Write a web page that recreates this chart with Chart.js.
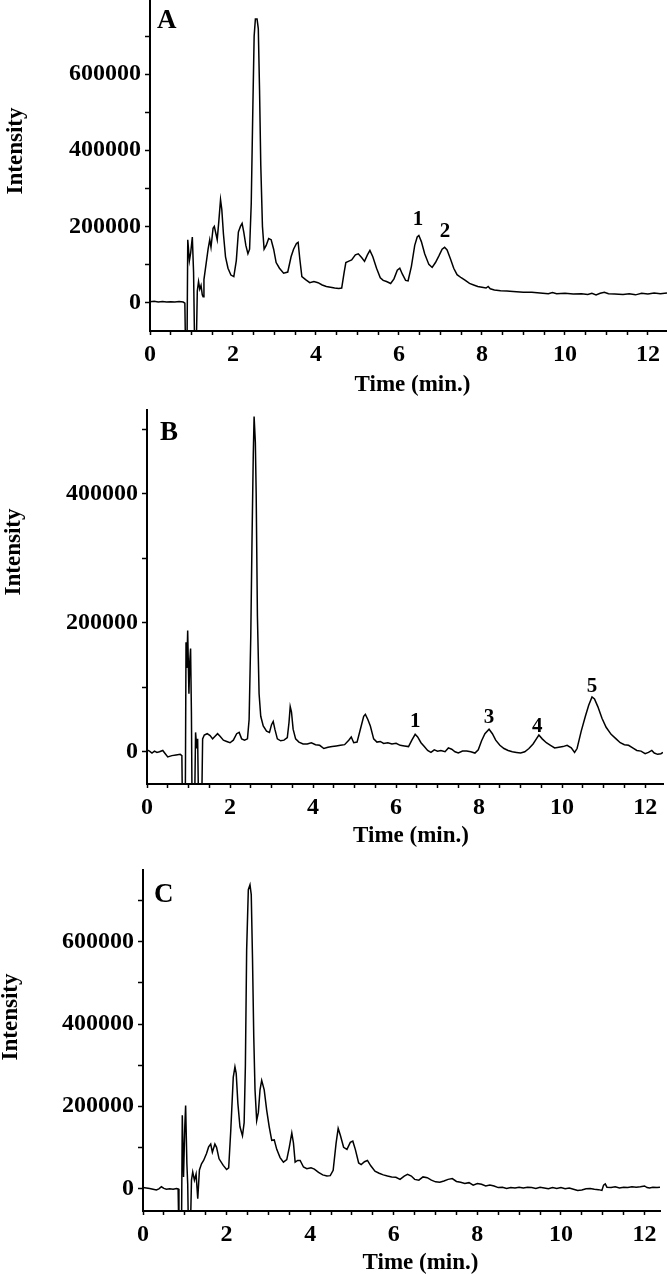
<!DOCTYPE html>
<html><head><meta charset="utf-8">
<script src="https://cdn.jsdelivr.net/npm/chart.js@4.4.0/dist/chart.umd.min.js"></script>
<style>
html,body{margin:0;padding:0;background:#fff;}
#wrap{position:relative;width:667px;height:1274px;overflow:hidden;background:#fff;}
canvas{position:absolute;left:0;}
</style></head><body>
<div id="wrap">
<canvas id="cA" width="667" height="402" style="top:0px"></canvas>
<canvas id="cB" width="667" height="446" style="top:404px"></canvas>
<canvas id="cC" width="667" height="422" style="top:852px"></canvas>
</div>
<script>
// ---------- DATA ----------
const xTickValues = [0,0.5,1,1.5,2,2.5,3,3.5,4,4.5,5,5.5,6,6.5,7,7.5,8,8.5,9,9.5,10,10.5,11,11.5,12];
const xLabelValues = [0,2,4,6,8,10,12];

const yTicksA = [0,100000,200000,300000,400000,500000,600000,700000];
const yLabelsA = [0,200000,400000,600000];
const yTicksB = [0,100000,200000,300000,400000,500000];
const yLabelsB = [0,200000,400000];
const yTicksC = [0,100000,200000,300000,400000,500000,600000,700000];
const yLabelsC = [0,200000,400000,600000];

const timeA = [0.00,0.10,0.20,0.30,0.40,0.50,0.60,0.70,0.80,0.84,0.86,0.89,0.91,0.95,0.98,1.02,1.05,1.08,1.11,1.14,1.17,1.20,1.23,1.26,1.28,1.30,1.35,1.40,1.44,1.47,1.52,1.55,1.59,1.62,1.66,1.70,1.73,1.77,1.82,1.88,1.95,2.02,2.08,2.13,2.18,2.22,2.26,2.31,2.36,2.40,2.44,2.48,2.51,2.54,2.58,2.61,2.64,2.67,2.71,2.75,2.80,2.86,2.92,2.98,3.04,3.12,3.22,3.32,3.40,3.46,3.53,3.57,3.61,3.66,3.75,3.85,3.95,4.05,4.15,4.25,4.35,4.45,4.55,4.62,4.68,4.72,4.78,4.86,4.95,5.02,5.10,5.17,5.24,5.30,5.37,5.46,5.55,5.62,5.70,5.80,5.88,5.96,6.02,6.08,6.16,6.22,6.30,6.38,6.44,6.48,6.54,6.62,6.72,6.80,6.88,6.96,7.04,7.10,7.16,7.24,7.32,7.40,7.50,7.60,7.70,7.80,7.90,8.00,8.10,8.15,8.20,8.30,8.45,8.60,8.75,9.00,9.20,9.40,9.60,9.70,9.80,10.00,10.20,10.40,10.55,10.65,10.75,10.85,10.95,11.05,11.20,11.40,11.55,11.70,11.85,12.00,12.15,12.30,12.46];
const intensityA = [2000,3000,1500,2500,1000,2000,1500,2500,1000,-2000,-150000,-150000,165000,110000,130000,172000,80000,-150000,-150000,30000,55000,35000,45000,20000,15000,60000,100000,140000,165000,145000,195000,200000,180000,165000,215000,270000,245000,180000,120000,90000,72000,68000,110000,185000,200000,208000,185000,150000,128000,140000,260000,520000,700000,745000,745000,720000,560000,360000,200000,140000,150000,168000,165000,140000,105000,90000,77000,80000,120000,140000,155000,158000,115000,68000,60000,52000,55000,52000,46000,42000,40000,38000,37000,38000,80000,105000,108000,112000,125000,128000,118000,108000,125000,137000,120000,90000,65000,58000,55000,50000,62000,85000,90000,75000,58000,57000,95000,150000,172000,176000,160000,128000,100000,92000,105000,122000,140000,145000,138000,115000,90000,73000,65000,58000,50000,46000,42000,40000,38000,42000,36000,33000,31000,30000,29000,27000,27000,25000,23000,26000,23000,24000,22000,23000,21000,24000,20000,24000,27000,23000,22000,21000,23000,20000,24000,22000,25000,23000,25000];

const timeB = [0.00,0.06,0.12,0.18,0.24,0.30,0.38,0.44,0.50,0.60,0.70,0.80,0.84,0.86,0.92,0.94,0.96,0.98,1.01,1.03,1.05,1.07,1.09,1.14,1.17,1.20,1.22,1.25,1.28,1.31,1.34,1.38,1.45,1.52,1.58,1.64,1.70,1.76,1.84,1.92,2.00,2.08,2.16,2.22,2.28,2.35,2.42,2.46,2.50,2.53,2.56,2.58,2.61,2.63,2.66,2.70,2.74,2.80,2.88,2.95,3.00,3.04,3.08,3.14,3.22,3.30,3.38,3.42,3.45,3.48,3.52,3.58,3.66,3.76,3.86,3.96,4.06,4.16,4.26,4.36,4.46,4.56,4.66,4.76,4.86,4.92,4.98,5.06,5.14,5.22,5.26,5.32,5.38,5.46,5.54,5.62,5.70,5.80,5.90,6.00,6.10,6.20,6.30,6.38,6.46,6.52,6.60,6.68,6.76,6.84,6.92,7.00,7.08,7.18,7.26,7.34,7.42,7.50,7.60,7.70,7.80,7.90,7.98,8.06,8.14,8.24,8.32,8.40,8.50,8.60,8.70,8.80,8.90,9.00,9.10,9.20,9.30,9.38,9.44,9.52,9.62,9.72,9.82,9.92,10.02,10.12,10.22,10.30,10.36,10.46,10.56,10.64,10.72,10.78,10.86,10.96,11.06,11.18,11.30,11.40,11.50,11.60,11.70,11.80,11.90,12.00,12.08,12.16,12.22,12.30,12.38,12.43];
const intensityB = [3000,1000,-2000,1000,-1000,0,2000,-3000,-8000,-6000,-5000,-4000,-6000,-120000,-120000,170000,130000,188000,90000,140000,160000,60000,-120000,-120000,30000,5000,20000,-120000,-120000,-120000,20000,26000,28000,25000,20000,24000,28000,24000,18000,16000,14000,18000,28000,30000,20000,18000,20000,50000,180000,330000,460000,520000,480000,400000,210000,90000,55000,40000,32000,30000,42000,47000,35000,20000,17000,18000,22000,45000,70000,62000,35000,20000,15000,12000,12000,14000,11000,10000,5000,7000,8000,9000,10000,11000,18000,23000,14000,15000,35000,55000,58000,50000,40000,20000,15000,16000,13000,14000,12000,13000,10000,9000,8000,18000,27000,23000,14000,8000,2000,-1000,3000,1000,2000,0,6000,4000,0,-2000,1000,1000,0,-2000,3000,17000,28000,35000,28000,18000,10000,5000,2000,0,-1000,-2000,0,5000,12000,20000,26000,20000,14000,10000,6000,7000,8000,10000,6000,-1000,5000,32000,55000,72000,85000,82000,70000,52000,38000,27000,20000,14000,11000,10000,6000,2000,1000,-3000,-1000,2000,-2000,-4000,-3000,-1000];

const timeC = [0.00,0.08,0.16,0.24,0.32,0.38,0.44,0.50,0.56,0.64,0.72,0.80,0.84,0.86,0.92,0.94,0.97,1.00,1.02,1.05,1.07,1.09,1.13,1.16,1.19,1.23,1.27,1.31,1.35,1.40,1.45,1.52,1.57,1.62,1.66,1.72,1.76,1.82,1.92,2.00,2.05,2.10,2.16,2.20,2.23,2.27,2.32,2.38,2.42,2.45,2.48,2.52,2.56,2.59,2.62,2.65,2.68,2.72,2.76,2.80,2.84,2.90,2.96,3.02,3.08,3.14,3.20,3.28,3.36,3.44,3.50,3.56,3.60,3.64,3.70,3.76,3.84,3.92,4.02,4.10,4.20,4.30,4.40,4.48,4.55,4.62,4.67,4.72,4.80,4.88,4.96,5.02,5.08,5.16,5.22,5.30,5.37,5.45,5.55,5.65,5.75,5.85,5.95,6.05,6.15,6.25,6.33,6.42,6.50,6.60,6.70,6.80,6.90,7.00,7.10,7.20,7.30,7.40,7.50,7.60,7.70,7.80,7.90,8.00,8.10,8.20,8.30,8.40,8.50,8.60,8.70,8.80,8.90,9.00,9.10,9.20,9.30,9.40,9.50,9.60,9.70,9.80,9.90,10.00,10.10,10.20,10.30,10.40,10.50,10.60,10.70,10.80,10.90,10.98,11.02,11.06,11.10,11.20,11.30,11.40,11.50,11.60,11.70,11.80,11.90,12.00,12.06,12.12,12.20,12.30,12.37];
const intensityC = [2000,1000,0,-2000,-4000,-1000,4000,0,-2000,-1000,-2000,0,-1000,-120000,-120000,178000,28000,150000,202000,60000,10000,-120000,-120000,20000,40000,20000,35000,-25000,45000,60000,68000,85000,101000,108000,88000,108000,100000,72000,56000,46000,50000,141000,271000,296000,280000,207000,150000,128000,160000,300000,580000,727000,739000,715000,560000,370000,240000,165000,185000,240000,263000,240000,190000,150000,117000,118000,95000,75000,64000,70000,100000,135000,110000,64000,68000,68000,52000,48000,50000,47000,39000,33000,30000,31000,44000,110000,146000,130000,100000,95000,112000,115000,95000,62000,58000,65000,68000,55000,42000,37000,33000,30000,28000,27000,22000,30000,34000,30000,22000,20000,28000,26000,20000,16000,15000,18000,22000,24000,17000,15000,12000,14000,8000,12000,10000,6000,8000,6000,2000,3000,0,2000,1000,3000,1000,3000,2000,0,3000,1000,-1000,2000,0,2000,-1000,1000,-2000,-5000,-4000,-1000,0,-2000,-3000,-5000,8000,11000,3000,2000,4000,1000,3000,2000,4000,3000,4000,6000,2000,1000,3000,2000,3000];

const peakNamesA = ['1','2'];
const peakTimesA = [6.46,7.11];
const peakLevelsA = [203000,171000];
const peakNamesB = ['1','3','4','5'];
const peakTimesB = [6.46,8.24,9.40,10.72];
const peakLevelsB = [39000,45000,30000,93000];
const peakNamesC = [];
const peakTimesC = [];
const peakLevelsC = [];

const xTitle = 'Time (min.)';
const yTitle = 'Intensity';

// ---------- RENDER ----------
const FONT = "'Liberation Serif','Times New Roman',serif";

const textPlugin = {
  id: 'panelText',
  afterDraw(chart, args, o) {
    const ctx = chart.ctx, ca = chart.chartArea, sx = chart.scales.x, sy = chart.scales.y;
    ctx.save();
    ctx.fillStyle = '#000';
    ctx.textBaseline = 'alphabetic';
    ctx.font = 'bold 27px ' + FONT;
    ctx.textAlign = 'left';
    ctx.fillText(o.letter, ca.left + o.letterDx, ca.top + o.letterDy);
    ctx.font = 'bold 21px ' + FONT;
    ctx.textAlign = 'center';
    o.names.forEach((n, i) => {
      ctx.fillText(n, sx.getPixelForValue(o.times[i]), sy.getPixelForValue(o.levels[i]));
    });
    ctx.font = 'bold 23px ' + FONT;
    ctx.fillText(xTitle, (ca.left + ca.right) / 2 + o.xTitleDx, ca.bottom + o.xTitleDy);
    ctx.translate(o.yTitleX, o.yTitleY);
    ctx.rotate(-Math.PI / 2);
    ctx.fillText(yTitle, 0, 0);
    ctx.restore();
  }
};

function makeChart(id, times, values, yTicks, yLabels, opt) {
  const pts = times.map((t, i) => ({x: t, y: values[i]}));
  return new Chart(document.getElementById(id), {
    type: 'line',
    data: { datasets: [{ data: pts, borderColor: '#000', borderWidth: 1.5, pointRadius: 0, tension: 0, fill: false }] },
    options: {
      responsive: false, animation: false, events: [],
      layout: { padding: { top: opt.padTop, right: opt.padRight, left: 0, bottom: 0 } },
      plugins: { legend: { display: false }, tooltip: { enabled: false }, panelText: opt.text },
      scales: {
        x: {
          type: 'linear', min: 0, max: opt.xMax,
          afterBuildTicks: s => { s.ticks = xTickValues.map(v => ({value: v})); },
          afterFit: s => { s.height = opt.xH; s.paddingLeft = 0; s.paddingRight = 0; },
          ticks: { autoSkip: false, maxRotation: 0, minRotation: 0, color: '#000', padding: 5,
                   font: { family: FONT, size: 24, weight: 'bold' },
                   callback: v => xLabelValues.includes(v) ? String(v) : '' },
          grid: { drawOnChartArea: false, drawTicks: true, tickLength: 4, tickColor: '#000', tickWidth: 1.5 },
          border: { display: true, color: '#000', width: 2 }
        },
        y: {
          type: 'linear', min: opt.yMin, max: opt.yMax,
          afterBuildTicks: s => { s.ticks = yTicks.map(v => ({value: v})); },
          afterFit: s => { s.width = opt.yW; s.paddingTop = 0; s.paddingBottom = 0; },
          ticks: { autoSkip: false, color: '#000', padding: 4,
                   font: { family: FONT, size: 24, weight: 'bold' },
                   callback: v => yLabels.includes(v) ? String(v) : '' },
          grid: { drawOnChartArea: false, drawTicks: true, tickLength: 5, tickColor: '#000', tickWidth: 1.5 },
          border: { display: true, color: '#000', width: 2 }
        }
      }
    },
    plugins: [textPlugin]
  });
}

makeChart('cA', timeA, intensityA, yTicksA, yLabelsA, {
  padTop: 0, padRight: 0, xH: 71, yW: 150, xMax: 12.46, yMin: -75000, yMax: 795000,
  text: { letter: 'A', letterDx: 7, letterDy: 28, names: peakNamesA, times: peakTimesA, levels: peakLevelsA,
          xTitleDx: 4, xTitleDy: 60, yTitleX: 22, yTitleY: 151 }
});
makeChart('cB', timeB, intensityB, yTicksB, yLabelsB, {
  padTop: 6, padRight: 4, xH: 66, yW: 147, xMax: 12.43, yMin: -50000, yMax: 530000,
  text: { letter: 'B', letterDx: 13, letterDy: 30, names: peakNamesB, times: peakTimesB, levels: peakLevelsB,
          xTitleDx: 6, xTitleDy: 58, yTitleX: 20, yTitleY: 148 }
});
makeChart('cC', timeC, intensityC, yTicksC, yLabelsC, {
  padTop: 18, padRight: 7, xH: 63, yW: 143, xMax: 12.37, yMin: -55000, yMax: 775000,
  text: { letter: 'C', letterDx: 11, letterDy: 32, names: peakNamesC, times: peakTimesC, levels: peakLevelsC,
          xTitleDx: 19, xTitleDy: 58, yTitleX: 17, yTitleY: 165 }
});
</script>
</body></html>
